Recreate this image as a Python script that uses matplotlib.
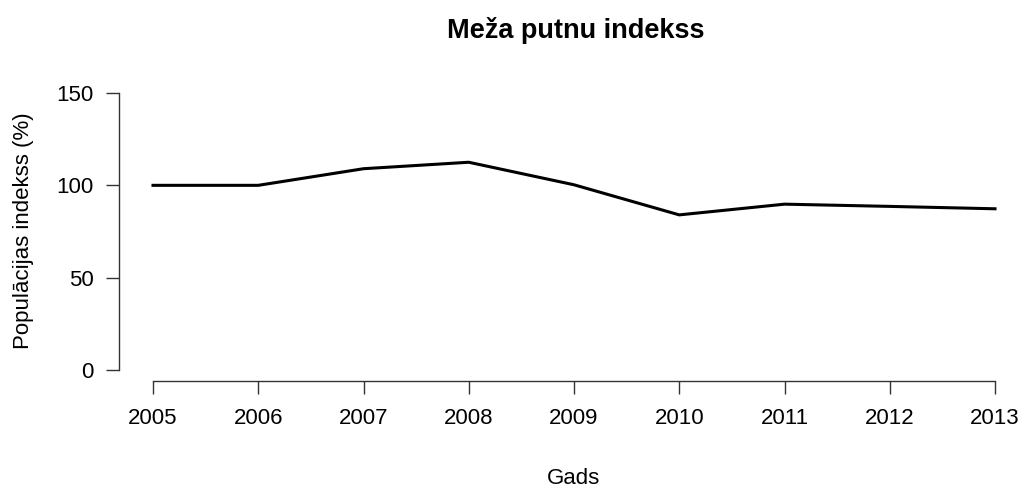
import matplotlib
matplotlib.use("Agg")
import matplotlib.pyplot as plt

years = [2005, 2006, 2007, 2008, 2009, 2010, 2011, 2012, 2013]
index_values = [100, 100, 109, 112.5, 100.3, 84, 89.8, 88.6, 87.3]
y_ticks = [0, 50, 100, 150]

plt.rcParams['font.family'] = ['Liberation Sans', 'DejaVu Sans']

W, H = 1023, 488
fig = plt.figure(figsize=(W / 100, H / 100), dpi=100)

px_per_year = (995 - 153) / 8
left_px = 153 - 0.32 * px_per_year
right_px = 995 + 0.32 * px_per_year
px_per_unit = (370 - 93) / 150
bottom_px = 370 + 6 * px_per_unit
top_px = 93 - 6 * px_per_unit

ax = fig.add_axes([left_px / W, 1 - bottom_px / H,
                   (right_px - left_px) / W, (bottom_px - top_px) / H])
ax.plot(years, index_values, color='black', linewidth=2.2)
ax.set_xlim(2005 - 0.32, 2013 + 0.32)
ax.set_ylim(-6, 156)

for s in ['top', 'right']:
    ax.spines[s].set_visible(False)
ax.spines['left'].set_bounds(0, 150)
ax.spines['bottom'].set_bounds(2005, 2013)
for s in ['left', 'bottom']:
    ax.spines[s].set_linewidth(1.0)
    ax.spines[s].set_color('#333333')

ax.set_xticks(years)
ax.set_xticklabels([str(y) for y in years])
ax.set_yticks(y_ticks)
ax.set_yticklabels([str(v) for v in y_ticks])
ax.tick_params(axis='both', direction='out', length=9.5, width=1.0,
               labelsize=16, colors='#333333', labelcolor='black')
ax.tick_params(axis='x', pad=10)
ax.tick_params(axis='y', pad=9)

fig.text(24 / W, 1 - 231 / H, 'Populācijas indekss (%)', rotation=90,
         ha='center', va='center', fontsize=16)
fig.text(574 / W, 1 - 478 / H, 'Gads', ha='center', va='center', fontsize=16)
fig.text(576 / W, 1 - 30 / H, 'Meža putnu indekss', ha='center', va='center',
         fontsize=19.5, fontweight='bold')

fig.savefig('out.png', dpi=100)
